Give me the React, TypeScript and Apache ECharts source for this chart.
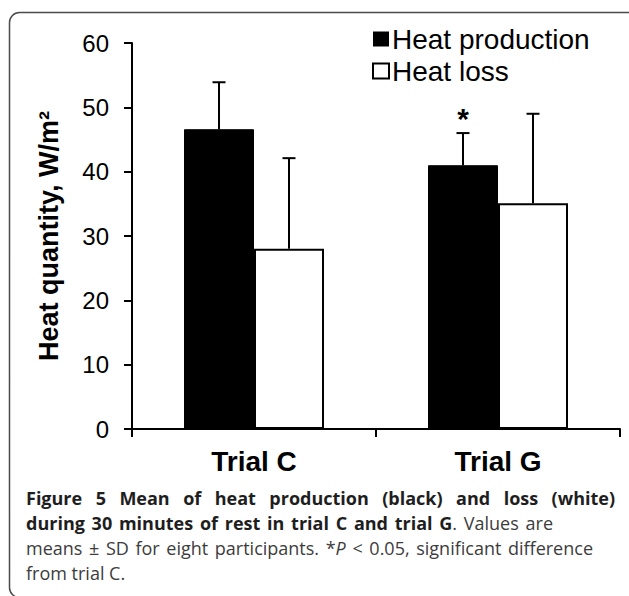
import React, { useEffect, useRef } from "react";
import * as echarts from "echarts";

const categories = ["Trial C", "Trial G"];
const heatProduction = [46.6, 41.0];
const heatProductionSD = [7.3, 5.0];
const heatLoss = [28.0, 35.1];
const heatLossSD = [14.1, 13.9];
const significance = ["", "*"];
const seriesNames = ["Heat production", "Heat loss"];
const yMin = 0;
const yMax = 60;
const yInterval = 10;
const yAxisTitle = "Heat quantity, W/m²";

type Run = { t: string; f: "b" | "n" | "i" };
const captionLines: { runs: Run[]; justifyTo?: number }[] = [
  { runs: [{ t: "Figure 5 Mean of heat production (black) and loss (white)", f: "b" }], justifyTo: 615 },
  { runs: [{ t: "during 30 minutes of rest in trial C and trial G", f: "b" }, { t: ". Values are", f: "n" }], justifyTo: 553 },
  {
    runs: [
      { t: "means ± SD for eight participants. *", f: "n" },
      { t: "P", f: "i" },
      { t: " < 0.05, significant difference", f: "n" },
    ],
    justifyTo: 593,
  },
  { runs: [{ t: "from trial C.", f: "n" }] },
];

const FONT = "'Liberation Sans', Arial, sans-serif";
const CAP_FONT = "'Open Sans', sans-serif";
const CAP_SIZE = 18;
const BAR_W = 70;

function fontCss(f: string) {
  if (f === "b") return `bold ${CAP_SIZE}px ${CAP_FONT}`;
  if (f === "i") return `italic ${CAP_SIZE}px ${CAP_FONT}`;
  return `${CAP_SIZE}px ${CAP_FONT}`;
}

function buildCaption(): any[] {
  const canvas = document.createElement("canvas");
  const ctx = canvas.getContext("2d")!;
  const measure = (t: string, f: string) => {
    ctx.font = fontCss(f);
    return ctx.measureText(t).width;
  };
  const x0 = 26;
  const y0 = 498;
  const lh = 25;
  const els: any[] = [];
  captionLines.forEach((line, li) => {
    const words: { text: string; f: string }[][] = [[]];
    line.runs.forEach((r) => {
      const parts = r.t.split(" ");
      parts.forEach((p, i) => {
        if (i > 0) words.push([]);
        if (p) words[words.length - 1].push({ text: p, f: r.f });
      });
    });
    const ws = words.filter((w) => w.length > 0);
    const widths = ws.map((w) => w.reduce((s, pc) => s + measure(pc.text, pc.f), 0));
    const total = widths.reduce((a, b) => a + b, 0);
    let gap = measure(" ", ws[0][0].f);
    if (line.justifyTo && ws.length > 1) gap = Math.max(gap * 0.8, (line.justifyTo - x0 - total) / (ws.length - 1));
    let x = x0;
    ws.forEach((w) => {
      w.forEach((pc) => {
        els.push({
          type: "text",
          x,
          y: y0 + li * lh,
          silent: true,
          style: {
            text: pc.text,
            fontFamily: CAP_FONT,
            fontSize: CAP_SIZE,
            fontWeight: pc.f === "b" ? "bold" : "normal",
            fontStyle: pc.f === "i" ? "italic" : "normal",
            fill: pc.f === "b" ? "#1e1e1e" : "#3c3c3c",
            verticalAlign: "middle",
            align: "left",
          },
        });
        x += measure(pc.text, pc.f);
      });
      x += gap;
    });
  });
  return els;
}

function errorSeries(values: number[], sds: number[], offset: number, marks: string[] | null) {
  return {
    type: "custom",
    silent: true,
    z: 5,
    data: values.map((v, i) => [i, v, sds[i]]),
    renderItem: (params: any, api: any) => {
      const cat = api.value(0);
      const v = api.value(1);
      const sd = api.value(2);
      const base = api.coord([cat, v]);
      const top = api.coord([cat, v + sd]);
      const x = base[0] + offset;
      const children: any[] = [
        { type: "line", shape: { x1: x, y1: base[1], x2: x, y2: top[1] }, style: { stroke: "#000", lineWidth: 2 } },
        { type: "line", shape: { x1: x - 6.5, y1: top[1], x2: x + 6.5, y2: top[1] }, style: { stroke: "#000", lineWidth: 2 } },
      ];
      const m = marks ? marks[params.dataIndex] : "";
      if (m) {
        children.push({
          type: "text",
          x: x,
          y: top[1] - 30,
          style: {
            text: m,
            fontFamily: FONT,
            fontSize: 30,
            fontWeight: "bold",
            fill: "#000",
            align: "center",
            verticalAlign: "top",
          },
        });
      }
      return { type: "group", children };
    },
  };
}

export default function App() {
  const ref = useRef<HTMLDivElement>(null);
  useEffect(() => {
    document.body.style.margin = "0";
    const chart = echarts.init(ref.current!, null, { renderer: "svg" });
    chart.setOption({
      animation: false,
      backgroundColor: "#fff",
      grid: { left: 132, top: 43, right: 9, bottom: 167, containLabel: false },
      legend: {
        orient: "vertical",
        left: 372,
        top: 25,
        icon: "rect",
        itemWidth: 16,
        itemHeight: 15,
        itemGap: 4,
        padding: 0,
        selectedMode: false,
        textStyle: { fontFamily: FONT, fontSize: 28, color: "#000", padding: [0, 0, 0, -2] },
        data: [
          { name: seriesNames[0], itemStyle: { color: "#000", borderColor: "#000", borderWidth: 0 } },
          { name: seriesNames[1], itemStyle: { color: "#fff", borderColor: "#000", borderWidth: 2 } },
        ],
      },
      xAxis: {
        type: "category",
        data: categories,
        boundaryGap: true,
        axisLine: { lineStyle: { color: "#000", width: 2 } },
        axisTick: { show: true, length: 8, lineStyle: { color: "#000", width: 2 }, alignWithLabel: false },
        axisLabel: { fontFamily: FONT, fontSize: 28, fontWeight: "bold", color: "#000", margin: 18 },
      },
      yAxis: {
        type: "value",
        min: yMin,
        max: yMax,
        interval: yInterval,
        name: yAxisTitle,
        nameLocation: "middle",
        nameGap: 70,
        nameRotate: 90,
        nameTextStyle: { fontFamily: FONT, fontSize: 27, fontWeight: "bold", color: "#000" },
        axisLine: { show: true, lineStyle: { color: "#000", width: 2 } },
        axisTick: { show: true, length: 8, lineStyle: { color: "#000", width: 2 } },
        axisLabel: { fontFamily: FONT, fontSize: 24, color: "#000", margin: 23 },
        splitLine: { show: false },
      },
      series: [
        {
          name: seriesNames[0],
          type: "bar",
          data: heatProduction,
          barWidth: BAR_W,
          barGap: "0%",
          itemStyle: { color: "#000", borderColor: "#000", borderWidth: 1 },
        },
        {
          name: seriesNames[1],
          type: "bar",
          data: heatLoss,
          barWidth: BAR_W,
          barGap: "0%",
          itemStyle: { color: "#fff", borderColor: "#000", borderWidth: 2 },
        },
        errorSeries(heatProduction, heatProductionSD, -BAR_W / 2, significance),
        errorSeries(heatLoss, heatLossSD, BAR_W / 2, null),
      ],
      graphic: [
        {
          type: "rect",
          silent: true,
          shape: { x: 9.5, y: 12.5, width: 700, height: 585, r: 10 },
          style: { fill: "none", stroke: "#4a4a4a", lineWidth: 1.5 },
        },
        ...buildCaption(),
      ],
    });
    return () => chart.dispose();
  }, []);
  return <div ref={ref} style={{ position: "absolute", left: 0, top: 0, width: 629, height: 596, background: "#fff" }} />;
}
